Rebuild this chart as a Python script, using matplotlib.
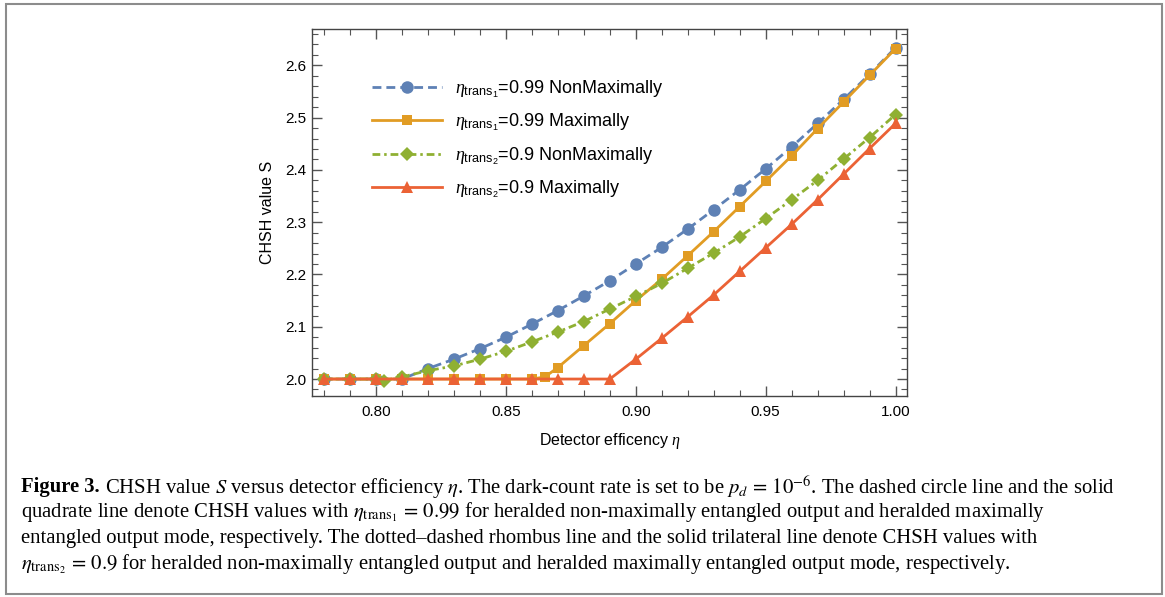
import matplotlib
matplotlib.use("Agg")
import matplotlib.pyplot as plt
from matplotlib.patches import Rectangle


# =========================================================
# DATOS
# =========================================================

eta_nonmax1 = [0.78, 0.79, 0.80, 0.81, 0.82, 0.83, 0.84, 0.85, 0.86, 0.87, 0.88, 0.89,
               0.90, 0.91, 0.92, 0.93, 0.94, 0.95, 0.96, 0.97, 0.98, 0.99, 1.00]
s_nonmax1 = [2.000, 2.000, 2.000, 2.000, 2.020, 2.038, 2.058, 2.080, 2.105, 2.131, 2.159, 2.188,
             2.220, 2.252, 2.287, 2.324, 2.362, 2.402, 2.444, 2.489, 2.535, 2.583, 2.634]

eta_max1 = [0.78, 0.79, 0.80, 0.81, 0.82, 0.83, 0.84, 0.85, 0.86, 0.865, 0.87, 0.88, 0.89,
            0.90, 0.91, 0.92, 0.93, 0.94, 0.95, 0.96, 0.97, 0.98, 0.99, 1.00]
s_max1 = [2.000, 2.000, 2.000, 2.000, 2.000, 2.000, 2.000, 2.000, 2.000, 2.004, 2.022, 2.064, 2.106,
          2.150, 2.191, 2.236, 2.282, 2.330, 2.378, 2.427, 2.479, 2.530, 2.581, 2.632]

eta_nonmax2 = [0.78, 0.79, 0.80, 0.803, 0.81, 0.82, 0.83, 0.84, 0.85, 0.86, 0.87, 0.88, 0.89,
               0.90, 0.91, 0.92, 0.93, 0.94, 0.95, 0.96, 0.97, 0.98, 0.99, 1.00]
s_nonmax2 = [2.000, 2.000, 2.000, 1.997, 2.004, 2.016, 2.025, 2.038, 2.053, 2.071, 2.090, 2.110, 2.134,
             2.158, 2.183, 2.212, 2.241, 2.272, 2.307, 2.343, 2.380, 2.421, 2.462, 2.506]

eta_max2 = [0.78, 0.79, 0.80, 0.81, 0.82, 0.83, 0.84, 0.85, 0.86, 0.87, 0.88, 0.89,
            0.90, 0.91, 0.92, 0.93, 0.94, 0.95, 0.96, 0.97, 0.98, 0.99, 1.00]
s_max2 = [2.000, 2.000, 2.000, 2.000, 2.000, 2.000, 2.000, 2.000, 2.000, 2.000, 2.000, 2.000,
          2.038, 2.078, 2.119, 2.161, 2.206, 2.251, 2.296, 2.343, 2.392, 2.441, 2.489]

etiquetas = [
    r"$\eta_{\mathrm{trans}_1}$=0.99 NonMaximally",
    r"$\eta_{\mathrm{trans}_1}$=0.99 Maximally",
    r"$\eta_{\mathrm{trans}_2}$=0.9 NonMaximally",
    r"$\eta_{\mathrm{trans}_2}$=0.9 Maximally",
]

x_ticks = [0.80, 0.85, 0.90, 0.95, 1.00]
y_ticks = [2.0, 2.1, 2.2, 2.3, 2.4, 2.5, 2.6]

caption = [
    r"CHSH value $S$ versus detector efficiency $\eta$. The dark-count rate is set to be $p_d\,=\,10^{-6}$. The dashed circle line and the solid",
    r"quadrate line denote CHSH values with $\eta_{\mathrm{trans}_1}\,=\,0.99$ for heralded non-maximally entangled output and heralded maximally",
    r"entangled output mode, respectively. The dotted–dashed rhombus line and the solid trilateral line denote CHSH values with",
    r"$\eta_{\mathrm{trans}_2}\,=\,0.9$ for heralded non-maximally entangled output and heralded maximally entangled output mode, respectively.",
]


# =========================================================
# ESTILO
# =========================================================

plt.rcParams["font.family"] = ["Liberation Sans", "DejaVu Sans"]
plt.rcParams["mathtext.fontset"] = "custom"
plt.rcParams["mathtext.rm"] = "Liberation Sans"
plt.rcParams["mathtext.it"] = "Liberation Serif:italic"

fig = plt.figure(figsize=(11.65, 5.97), dpi=100)
ax = fig.add_axes([0.2681, 0.3362, 0.5102, 0.6147])

# =========================================================
# CURVAS
# =========================================================

lw = 2.0

ax.plot(eta_nonmax1, s_nonmax1, color="#5E81B5", lw=lw, dashes=(3.2, 1.8),
        marker="o", ms=9, mew=0, label=etiquetas[0])
ax.plot(eta_max1, s_max1, color="#E19C24", lw=lw,
        marker="s", ms=6.5, mew=0, label=etiquetas[1])
ax.plot(eta_nonmax2, s_nonmax2, color="#8FB032", lw=lw, dashes=(2.8, 1.4, 0.9, 1.4),
        marker="D", ms=7.5, mew=0, label=etiquetas[2])
ax.plot(eta_max2, s_max2, color="#EB6235", lw=lw,
        marker="^", ms=9, mew=0, label=etiquetas[3])

ax.set_xlim(0.7755, 1.0043)
ax.set_ylim(1.967, 2.669)

ax.set_xticks(x_ticks)
ax.set_xticklabels([f"{v:.2f}" for v in x_ticks])
ax.set_yticks(y_ticks)
ax.set_yticklabels([f"{v:.1f}" for v in y_ticks])
ax.set_xticks([0.78 + 0.01 * i for i in range(23)], minor=True)
ax.set_yticks([1.98 + 0.02 * i for i in range(35)], minor=True)

ax.tick_params(which="both", direction="in", top=True, right=True,
               color="#555555", labelsize=11, labelcolor="black")
ax.tick_params(which="major", length=7, width=1.0)
ax.tick_params(axis="y", which="major", pad=4)
ax.tick_params(axis="x", which="major", pad=6)
ax.tick_params(which="minor", length=4, width=0.8)

for lado in ax.spines.values():
    lado.set_color("#444444")
    lado.set_linewidth(1.0)

ax.set_xlabel(r"Detector efficency $\eta$", fontsize=11.5, labelpad=9)
ax.set_ylabel("CHSH value S", fontsize=11.5, labelpad=8)

ax.legend(loc="upper left", bbox_to_anchor=(0.100, 0.866), frameon=False,
          fontsize=13, handlelength=3.9, handletextpad=0.7, labelspacing=0.65,
          borderpad=0, borderaxespad=0, numpoints=1)

# =========================================================
# LEYENDA DE LA FIGURA
# =========================================================

tam = 14.9
y0 = 1 - 487 / 597
paso = 25.5 / 597

negrita = fig.text(21 / 1165, y0, "Figure 3.", fontsize=tam, fontweight="bold",
                   family="Liberation Serif", va="center", ha="left")

ax.annotate(" " + caption[0], xy=(1, 0.5), xycoords=negrita, va="center", ha="left",
            fontsize=tam, family="Liberation Serif", math_fontfamily="stix",
            annotation_clip=False)

for i, linea in enumerate(caption[1:], start=1):
    fig.text(21 / 1165, y0 - i * paso, linea, fontsize=tam, family="Liberation Serif",
             math_fontfamily="stix", va="center", ha="left")

fig.patches.append(Rectangle((5.5 / 1165, 3 / 597), 1156 / 1165, 590 / 597,
                             transform=fig.transFigure, fill=False,
                             edgecolor="#8c8c8c", lw=1.5))

fig.savefig("out.png", dpi=100)
